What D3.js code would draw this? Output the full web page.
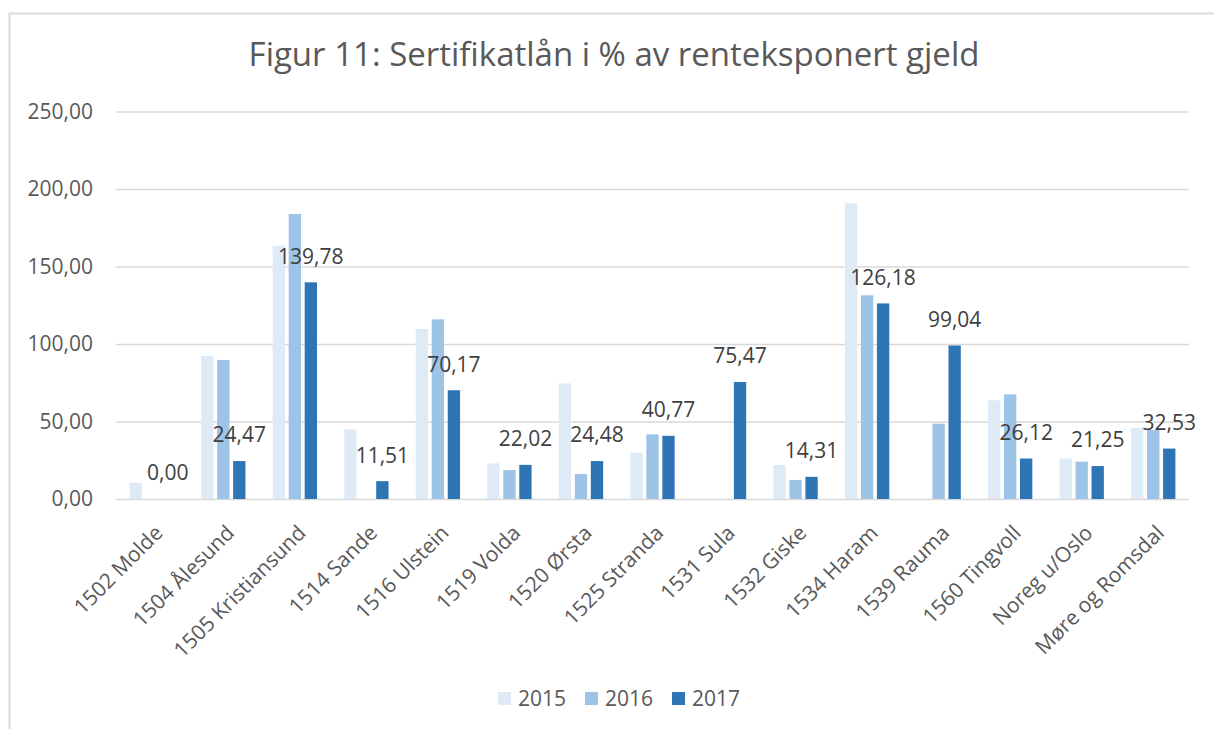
<!DOCTYPE html>
<html>
<head>
<meta charset="utf-8">
<script src="https://cdn.jsdelivr.net/npm/d3@7"></script>
<style>
  body { margin: 0; background: #fff; }
  .chart text { font-family: "Open Sans", sans-serif; fill: #595959; }
  .chart .title { font-size: 33px; text-anchor: middle; }
  .chart .tick-label { font-size: 21px; text-anchor: end; }
  .chart .cat-label { font-size: 21px; text-anchor: end; }
  .chart .value-label { font-size: 21px; text-anchor: middle; fill: #404040; }
  .chart .legend text { font-size: 21px; }
  .grid line { stroke: #d9d9d9; stroke-width: 1.5; }
</style>
</head>
<body>
<div id="chart"></div>
<script>
var categories = [
  "1502 Molde", "1504 Ålesund", "1505 Kristiansund", "1514 Sande", "1516 Ulstein",
  "1519 Volda", "1520 Ørsta", "1525 Stranda", "1531 Sula", "1532 Giske",
  "1534 Haram", "1539 Rauma", "1560 Tingvoll", "Noreg u/Oslo", "Møre og Romsdal"
];
var years = ["2015", "2016", "2017"];
var values2015 = [10.5, 92.3, 163.4, 45.0, 109.7, 23.0, 74.6, 29.9, null, 21.9, 190.8, null, 63.7, 26.2, 46.0];
var values2016 = [null, 89.7, 183.9, null, 115.9, 18.7, 16.1, 41.7, null, 12.3, 131.4, 48.6, 67.5, 24.1, 44.5];
var values2017 = [0.00, 24.47, 139.78, 11.51, 70.17, 22.02, 24.48, 40.77, 75.47, 14.31, 126.18, 99.04, 26.12, 21.25, 32.53];
var yTicks = [0, 50, 100, 150, 200, 250];
var colors = ["#deebf7", "#9dc3e6", "#2e75b6"];

var width = 1214,
    height = 729,
    plotLeft = 116,
    plotRight = 1189,
    plotTop = 111.5,
    plotBottom = 499;

var norsk = d3.formatLocale({decimal: ",", thousands: " ", grouping: [3], currency: ["", " kr"]});
var fmt = norsk.format(".2f");

var seriesValues = [values2015, values2016, values2017];

var svg = d3.select("#chart").append("svg")
    .attr("class", "chart")
    .attr("width", width)
    .attr("height", height);

// outer frame (cut off at right and bottom like the screenshot)
svg.append("rect")
    .attr("x", 9.5)
    .attr("y", 13.5)
    .attr("width", width + 20)
    .attr("height", height + 20)
    .attr("fill", "#fff")
    .attr("stroke", "#d9d9d9")
    .attr("stroke-width", 2);

svg.append("text")
    .attr("class", "title")
    .attr("x", 614)
    .attr("y", 66)
    .text("Figur 11: Sertifikatlån i % av renteksponert gjeld");

var x = d3.scaleBand()
    .domain(categories)
    .range([plotLeft, plotRight]);

var xSeries = d3.scaleBand()
    .domain(years)
    .range([0, x.bandwidth()])
    .paddingInner(0.23)
    .paddingOuter(0.85);

var y = d3.scaleLinear()
    .domain([0, 250])
    .range([plotBottom, plotTop]);

// gridlines + tick labels
var yAxis = d3.axisLeft(y)
    .tickValues(yTicks)
    .tickSize(-(plotRight - plotLeft))
    .tickFormat("");

var grid = svg.append("g")
    .attr("class", "grid")
    .attr("transform", "translate(" + plotLeft + ",0)")
    .call(yAxis);
grid.select(".domain").remove();

svg.append("g").selectAll("text")
    .data(yTicks)
    .enter().append("text")
    .attr("class", "tick-label")
    .attr("x", 93)
    .attr("y", function(d) { return y(d); })
    .attr("dy", "0.35em")
    .text(function(d) { return fmt(d); });

// bars
var rows = categories.map(function(c, i) {
  return {
    category: c,
    items: years.map(function(yr, j) {
      return {year: yr, value: seriesValues[j][i], idx: j};
    })
  };
});

var group = svg.append("g").selectAll("g")
    .data(rows)
    .enter().append("g")
    .attr("transform", function(d) { return "translate(" + x(d.category) + ",0)"; });

group.selectAll("rect")
    .data(function(d) { return d.items.filter(function(e) { return e.value != null; }); })
    .enter().append("rect")
    .attr("x", function(d) { return xSeries(d.year); })
    .attr("y", function(d) { return y(d.value); })
    .attr("width", xSeries.bandwidth())
    .attr("height", function(d) { return y(0) - y(d.value); })
    .attr("fill", function(d) { return colors[d.idx]; });

// value labels on 2017 only
group.append("text")
    .attr("class", "value-label")
    .attr("x", function(d) { return xSeries("2017") + xSeries.bandwidth() / 2; })
    .attr("y", function(d) { return y(d.items[2].value) - 26; })
    .attr("dy", "0.35em")
    .text(function(d) { return fmt(d.items[2].value); });

// category labels
svg.append("g").selectAll("text")
    .data(categories)
    .enter().append("text")
    .attr("class", "cat-label")
    .attr("transform", function(d) {
      return "translate(" + (x(d) + x.bandwidth() / 2 + 7) + ",529) rotate(-45)";
    })
    .attr("dy", "0.35em")
    .text(function(d) { return d; });

// legend
var legend = svg.append("g")
    .attr("class", "legend")
    .selectAll("g")
    .data(years)
    .enter().append("g")
    .attr("transform", function(d, i) { return "translate(" + (498 + i * 87) + ",692)"; });

legend.append("rect")
    .attr("width", 13)
    .attr("height", 13)
    .attr("fill", function(d, i) { return colors[i]; });

legend.append("text")
    .attr("x", 20)
    .attr("y", 6.5)
    .attr("dy", "0.35em")
    .text(function(d) { return d; });
</script>
</body>
</html>
